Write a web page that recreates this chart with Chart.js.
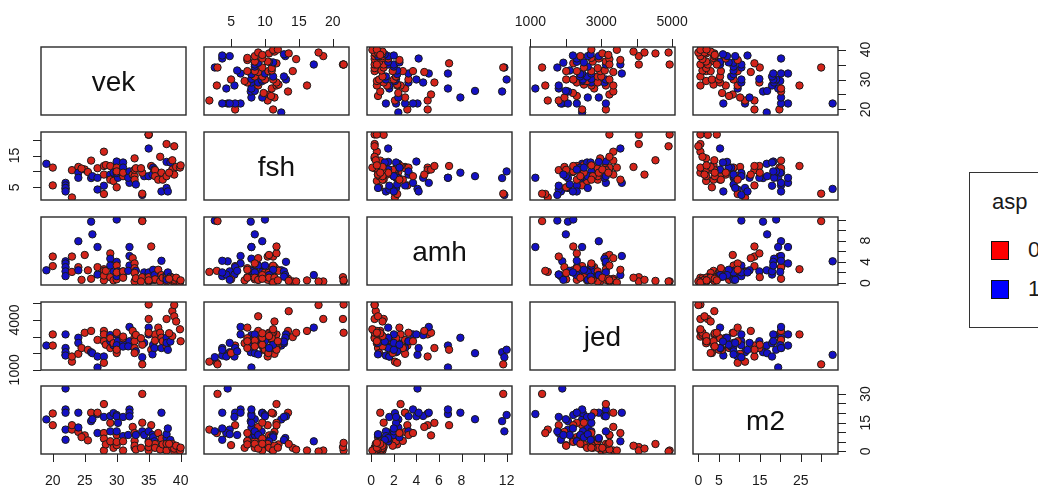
<!DOCTYPE html>
<html>
<head>
<meta charset="utf-8">
<script src="https://cdn.jsdelivr.net/npm/chart.js@4.4.1/dist/chart.umd.min.js"></script>
<style>
  html, body { margin: 0; padding: 0; background: #fff; }
  body { width: 1038px; height: 487px; position: relative; overflow: hidden; font-family: "Liberation Sans", Arial, sans-serif; color: #1a1a1a; }
  canvas { position: absolute; }
  #legend { position: absolute; left: 969px; top: 172px; width: 120px; height: 156px; border: 1px solid #333; box-sizing: border-box; }
  #legend div { position: absolute; font-size: 22px; line-height: 22px; }
  #legend .sw { width: 18px; height: 19px; border: 1px solid #111; box-sizing: border-box; }
</style>
</head>
<body>
<div id="legend">
  <div style="left:22px;top:18px">asp</div>
  <div class="sw" style="left:21px;top:68px;background:#ff0000"></div>
  <div style="left:58px;top:66px">0</div>
  <div class="sw" style="left:21px;top:107px;background:#0000ff"></div>
  <div style="left:58px;top:105px">1</div>
</div>
<script>
// variables in the order of the matrix
const varNames = ['vek', 'fsh', 'amh', 'jed', 'm2'];

// one entry per woman
const vek = [19, 20, 20, 22, 22, 22, 22, 22, 23, 23, 24, 24, 24, 25, 24.5, 25.5, 26, 26, 26.2, 27, 27, 27,
  28, 28, 28, 28, 28, 28.3, 29, 29, 29, 29.5, 29, 29.5, 30, 30, 30, 30, 30.2, 30, 30, 31, 31, 31, 31,
  32, 32, 32, 31.8, 32.5, 32.8, 32.8, 32.8, 33, 32.8, 33, 34, 34, 34.3, 34, 33.8, 35, 35, 35.4, 35, 35.6,
  35, 35.7, 35.9, 36, 36, 36.5, 36.8, 37, 37, 37.2, 37.8, 37.8, 37.8, 37.8, 38, 38.4, 38.7, 38.7, 39, 39,
  39.3, 39.9, 40, 38.2, 35];
const fsh = [12.4, 11.2, 5.6, 4.5, 6.4, 5.6, 4.8, 3.7, 1.8, 10.4, 11.4, 9.6, 8.0, 10.6, 10.9, 9.8, 13.4, 7.9, 8.5, 8.0, 4.3, 11.0,
  16.2, 11.7, 5.5, 2.9, 9.0, 12.0, 11.7, 8.0, 9.0, 9.6, 7.4, 7.0, 10.0, 13.1, 5.0, 11.2, 8.0, 9.5, 10.0, 12.8, 11.2, 8.5, 9.6,
  8.0, 6.4, 10.0, 8.0, 9.0, 14.1, 8.5, 7.4, 5.9, 10.5, 11.0, 2.6, 3.0, 8.5, 9.6, 11.0, 21.6, 17.2, 11.7, 8.5, 9.0,
  21.5, 11.2, 10.6, 10.4, 8.5, 7.4, 14.6, 9.6, 3.7, 7.4, 18.6, 13.0, 8.5, 4.8, 3.7, 12.8, 13.5, 10.6, 17.9, 9.0,
  11.4, 11.2, 11.9, 9.6, 21.6];
const amh = [2.4, 5.0, 3.2, 4.1, 3.7, 3.0, 2.2, 1.3, 2.1, 5.0, 3.0, 7.9, 2.4, 5.3, 0.6, 2.4, 0.8, 11.6, 9.2, 6.8, 1.6, 3.0,
  0.5, 2.6, 1.6, 2.3, 1.4, 2.3, 5.6, 4.6, 3.3, 2.1, 1.1, 0.5, 12.0, 4.0, 0.7, 3.3, 2.2, 1.3, 2.0, 2.2, 1.3, 2.2, 1.0,
  6.8, 5.1, 3.3, 2.3, 4.7, 0.3, 3.7, 2.8, 2.3, 1.9, 0.9, 11.8, 11.7, 2.0, 1.1, 0.3, 0.3, 1.5, 6.9, 2.0, 0.6,
  1.1, 2.5, 1.5, 0.6, 0.7, 2.5, 0.3, 1.5, 4.2, 1.0, 0.3, 1.5, 1.0, 0.6, 2.0, 1.2, 0.4, 1.0, 0.3, 0.6,
  1.0, 0.1, 0.5, 0.8, 0.5];
const jed = [2460, 3130, 2460, 1900, 3130, 2310, 2060, 1860, 1490, 1800, 1960, 2930, 2620, 3230, 2310, 2200, 3340, 2060, 2000, 1140, 1800, 2800,
  3340, 3130, 1800, 1420, 2720, 2510, 2310, 3090, 2720, 2480, 2900, 2600, 2210, 3130, 2010, 3230, 2720, 2480, 2210, 2600, 2400, 2900, 3000,
  2460, 3580, 2720, 2410, 3340, 2970, 2720, 2310, 2110, 2010, 3100, 1760, 1330, 2620, 2510, 2900, 4930, 3540, 2210, 3130, 1930,
  4060, 2510, 2310, 3130, 2760, 3540, 3230, 2930, 2310, 2720, 4060, 2930, 2410, 2620, 2200, 2700, 4530, 3030, 4900, 4220,
  3910, 3440, 2720, 3200, 3230];
const m2 = [16.7, 19.8, 13.7, 32.8, 21.9, 20.2, 11.4, 6.1, 11.4, 13.7, 10.2, 20.2, 12.5, 8.4, 7.5, 5.8, 20.2, 15.8, 16.8, 19.5, 9.6, 20.2,
  0.5, 24.7, 18.0, 9.6, 6.7, 3.7, 14.9, 18.5, 10.5, 20.0, 5.3, 1.9, 19.0, 18.3, 3.3, 8.6, 14.9, 10.5, 5.0, 18.0, 8.0, 5.3, 0.5,
  21.9, 20.2, 18.3, 8.6, 12.8, 1.9, 9.6, 5.5, 8.6, 3.0, 1.0, 10.5, 30.0, 8.6, 15.0, 1.9, 0.5, 5.3, 13.7, 10.5, 8.6,
  2.3, 7.4, 5.3, 3.9, 1.9, 9.6, 1.0, 6.7, 20.2, 3.7, 0.5, 7.0, 4.0, 9.0, 12.0, 6.0, 3.9, 1.9, 0.0, 1.5,
  3.0, 0.5, 2.0, 4.0, 4.5];
const asp = [1, 0, 0, 1, 1, 1, 1, 1, 0, 0, 0, 1, 1, 0, 0, 0, 0, 1, 1, 1, 1, 0,
  0, 0, 1, 0, 0, 0, 0, 1, 1, 1, 0, 0, 1, 1, 0, 0, 1, 1, 0, 1, 1, 0, 0,
  1, 1, 1, 1, 0, 0, 0, 0, 1, 0, 0, 1, 0, 1, 0, 0, 0, 1, 0, 1, 1,
  0, 1, 1, 0, 0, 0, 0, 0, 1, 0, 0, 1, 0, 1, 1, 1, 0, 0, 0, 0,
  0, 0, 0, 0, 0];

// axis ticks, and which of them carry a label (horizontal / vertical axis)
const vekTicks = [20, 25, 30, 35, 40], vekLabH = [20, 25, 30, 35, 40], vekLabV = [20, 30, 40];
const fshTicks = [5, 10, 15, 20], fshLabH = [5, 10, 15, 20], fshLabV = [5, 15];
const amhTicks = [0, 2, 4, 6, 8, 10, 12], amhLabH = [0, 2, 4, 6, 8, 12], amhLabV = [0, 4, 8];
const jedTicks = [1000, 2000, 3000, 4000, 5000], jedLabH = [1000, 3000, 5000], jedLabV = [1000, 4000];
const m2Ticks = [0, 5, 10, 15, 20, 25, 30], m2LabH = [0, 5, 15, 25], m2LabV = [0, 15, 30];

const cols = [vek, fsh, amh, jed, m2];
const ticks = [vekTicks, fshTicks, amhTicks, jedTicks, m2Ticks];
const labH = [vekLabH, fshLabH, amhLabH, jedLabH, m2LabH];
const labV = [vekLabV, fshLabV, amhLabV, jedLabV, m2LabV];

const RED = 'rgb(212,36,26)', BLUE = 'rgb(20,16,196)';
const FONT = '"Liberation Sans", Arial, sans-serif';

// panel boxes on the page
const panelX = [41, 204, 367, 530, 693];
const panelY = [47, 131.5, 216.5, 301.5, 386];
const panelW = 145, panelH = 68, pad = 40;

// R style range: data range widened by 4% on each side
function rangeOf(v) {
  const lo = Math.min(...v), hi = Math.max(...v), d = (hi - lo) * 0.04;
  return [lo - d, hi + d];
}

function drawAxis(chart, ax) {
  const ctx = chart.ctx, a = chart.chartArea;
  const horiz = ax.side === 'top' || ax.side === 'bottom';
  const scale = horiz ? chart.scales.x : chart.scales.y;
  ctx.strokeStyle = '#222';
  ctx.lineWidth = 1;
  ctx.fillStyle = '#1a1a1a';
  ctx.font = '14px ' + FONT;
  ctx.textAlign = 'center';
  ctx.textBaseline = 'middle';
  ax.ticks.forEach(t => {
    const p = Math.round(scale.getPixelForValue(t)) + 0.5;
    ctx.beginPath();
    if (ax.side === 'bottom') { ctx.moveTo(p, a.bottom); ctx.lineTo(p, a.bottom + 8); }
    if (ax.side === 'top') { ctx.moveTo(p, a.top); ctx.lineTo(p, a.top - 8); }
    if (ax.side === 'left') { ctx.moveTo(a.left, p); ctx.lineTo(a.left - 8, p); }
    if (ax.side === 'right') { ctx.moveTo(a.right, p); ctx.lineTo(a.right + 8, p); }
    ctx.stroke();
  });
  ax.labels.forEach(t => {
    const p = scale.getPixelForValue(t);
    if (ax.side === 'bottom') ctx.fillText(String(t), p, a.bottom + 27);
    if (ax.side === 'top') ctx.fillText(String(t), p, a.top - 25);
    if (ax.side === 'left' || ax.side === 'right') {
      ctx.save();
      ctx.translate(ax.side === 'left' ? a.left - 26 : a.right + 28, p);
      ctx.rotate(-Math.PI / 2);
      ctx.fillText(String(t), 0, 0);
      ctx.restore();
    }
  });
}

const pairsFrame = {
  id: 'pairsFrame',
  afterDatasetsDraw(chart, args, opts) {
    const ctx = chart.ctx, a = chart.chartArea;
    ctx.save();
    ctx.strokeStyle = '#2a2a2a';
    ctx.lineWidth = 1.4;
    ctx.strokeRect(a.left, a.top, a.right - a.left, a.bottom - a.top);
    if (opts.label) {
      ctx.fillStyle = '#111';
      ctx.font = '28px ' + FONT;
      ctx.textAlign = 'center';
      ctx.textBaseline = 'middle';
      ctx.fillText(opts.label, (a.left + a.right) / 2, (a.top + a.bottom) / 2 + 2);
    }
    (opts.axes || []).forEach(ax => drawAxis(chart, ax));
    ctx.restore();
  }
};

for (let r = 0; r < 5; r++) {
  for (let c = 0; c < 5; c++) {
    const canvas = document.createElement('canvas');
    canvas.width = panelW + 2 * pad;
    canvas.height = panelH + 2 * pad;
    canvas.style.left = (panelX[c] - pad) + 'px';
    canvas.style.top = (panelY[r] - pad) + 'px';
    document.body.appendChild(canvas);

    const axes = [];
    if (r === 0 && c % 2 === 1) axes.push({ side: 'top', ticks: ticks[c], labels: labH[c] });
    if (r === 4 && c % 2 === 0) axes.push({ side: 'bottom', ticks: ticks[c], labels: labH[c] });
    if (c === 0 && r % 2 === 1) axes.push({ side: 'left', ticks: ticks[r], labels: labV[r] });
    if (c === 4 && r % 2 === 0) axes.push({ side: 'right', ticks: ticks[r], labels: labV[r] });

    const xr = rangeOf(cols[c]), yr = rangeOf(cols[r]);
    const datasets = [];
    if (r !== c) {
      datasets.push({
        data: cols[c].map((v, i) => ({ x: v, y: cols[r][i] })),
        pointBackgroundColor: asp.map(a => a ? BLUE : RED),
        pointBorderColor: '#1a1a1a',
        pointBorderWidth: 1,
        pointRadius: 3.7,
        clip: 0
      });
    }

    new Chart(canvas.getContext('2d'), {
      type: 'scatter',
      data: { datasets: datasets },
      options: {
        responsive: false,
        animation: false,
        events: [],
        layout: { padding: pad },
        scales: {
          x: { type: 'linear', min: xr[0], max: xr[1], display: false },
          y: { type: 'linear', min: yr[0], max: yr[1], display: false }
        },
        plugins: {
          legend: { display: false },
          tooltip: { enabled: false },
          pairsFrame: { label: r === c ? varNames[r] : null, axes: axes }
        }
      },
      plugins: [pairsFrame]
    });
  }
}
</script>
</body>
</html>
